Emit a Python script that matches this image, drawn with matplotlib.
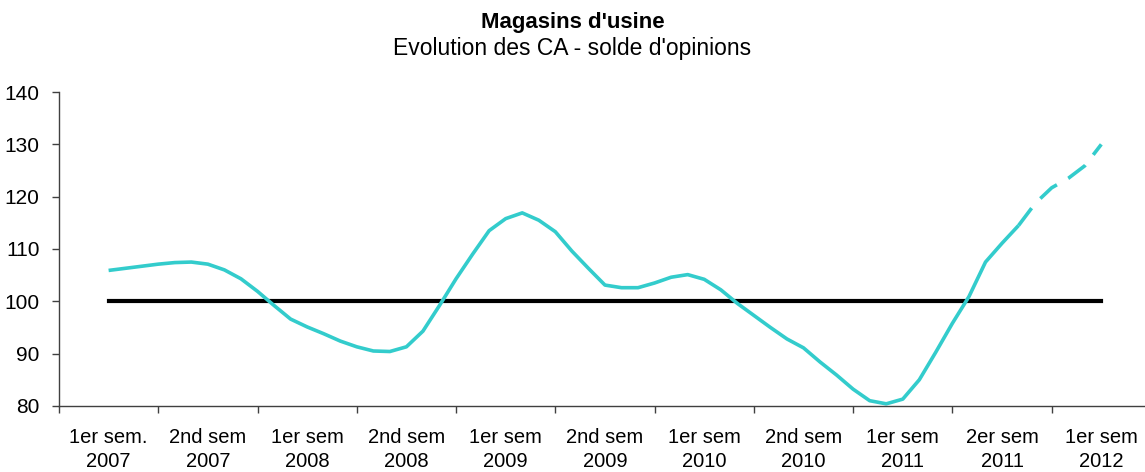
import numpy as np
import matplotlib
matplotlib.use("Agg")
import matplotlib.pyplot as plt

plt.rcParams['font.family'] = ['Liberation Sans', 'DejaVu Sans']

categories = ["1er sem.\n2007", "2nd sem\n2007", "1er sem\n2008", "2nd sem\n2008",
              "1er sem\n2009", "2nd sem\n2009", "1er sem\n2010", "2nd sem\n2010",
              "1er sem\n2011", "2er sem\n2011", "1er sem\n2012"]

# monthly balance of opinions (6 points per semester)
ca_observed = [105.9, 106.3, 106.7, 107.1, 107.4, 107.5, 107.1, 106.0, 104.3, 101.9,
               99.2, 96.6, 95.1, 93.8, 92.4, 91.3, 90.5, 90.4, 91.3, 94.3,
               99.2, 104.3, 109.0, 113.5, 115.8, 116.9, 115.5, 113.3, 109.6, 106.3,
               103.1, 102.6, 102.6, 103.5, 104.6, 105.1, 104.2, 102.2, 99.6, 97.3,
               95.0, 92.8, 91.1, 88.4, 85.9, 83.2, 81.0, 80.4, 81.3, 85.0,
               90.3, 95.8, 100.9, 107.5, 111.1, 114.5]
ca_forecast = [114.5, 118.7, 121.7, 123.5, 125.9, 130.0]
reference = [100] * len(categories)

fig = plt.figure(figsize=(11.45, 4.72), dpi=100)
ax = fig.add_axes([0.0515, 0.140, 0.9537, 0.665])

cyan = '#33CCCC'
x_obs = np.arange(len(ca_observed)) / 6.0
x_fc = (len(ca_observed) - 1 + np.arange(len(ca_forecast))) / 6.0

ax.plot(np.arange(len(reference)), reference, color='black', linewidth=3.0)
ax.plot(x_obs, ca_observed, color=cyan, linewidth=2.6, solid_capstyle='butt')
ax.plot(x_fc, ca_forecast, color=cyan, linewidth=2.6, dashes=(6, 3.6))

ax.set_xlim(-0.5, len(categories) - 0.5)
ax.set_ylim(80, 140)
ax.set_yticks(np.arange(80, 141, 10))

ax.set_xticks(np.arange(len(categories) + 1) - 0.5)
ax.set_xticklabels([])
ax.set_xticks(np.arange(len(categories)), minor=True)
ax.set_xticklabels(categories, minor=True, linespacing=1.35)
ax.tick_params(axis='x', which='minor', length=0, pad=16, labelsize=14.5)
ax.tick_params(axis='x', which='major', length=5, width=1, color='#404040')
ax.tick_params(axis='y', length=5, width=1, color='#404040', labelsize=15, pad=9)

for s in ['top', 'right']:
    ax.spines[s].set_visible(False)
for s in ['left', 'bottom']:
    ax.spines[s].set_color('#404040')
    ax.spines[s].set_linewidth(1)

fig.text(0.5, 0.953, "Magasins d'usine", ha='center', va='center', fontsize=16, fontweight='bold')
fig.text(0.5, 0.897, "Evolution des CA - solde d'opinions", ha='center', va='center', fontsize=16.5)

fig.savefig("out.png", dpi=100)
